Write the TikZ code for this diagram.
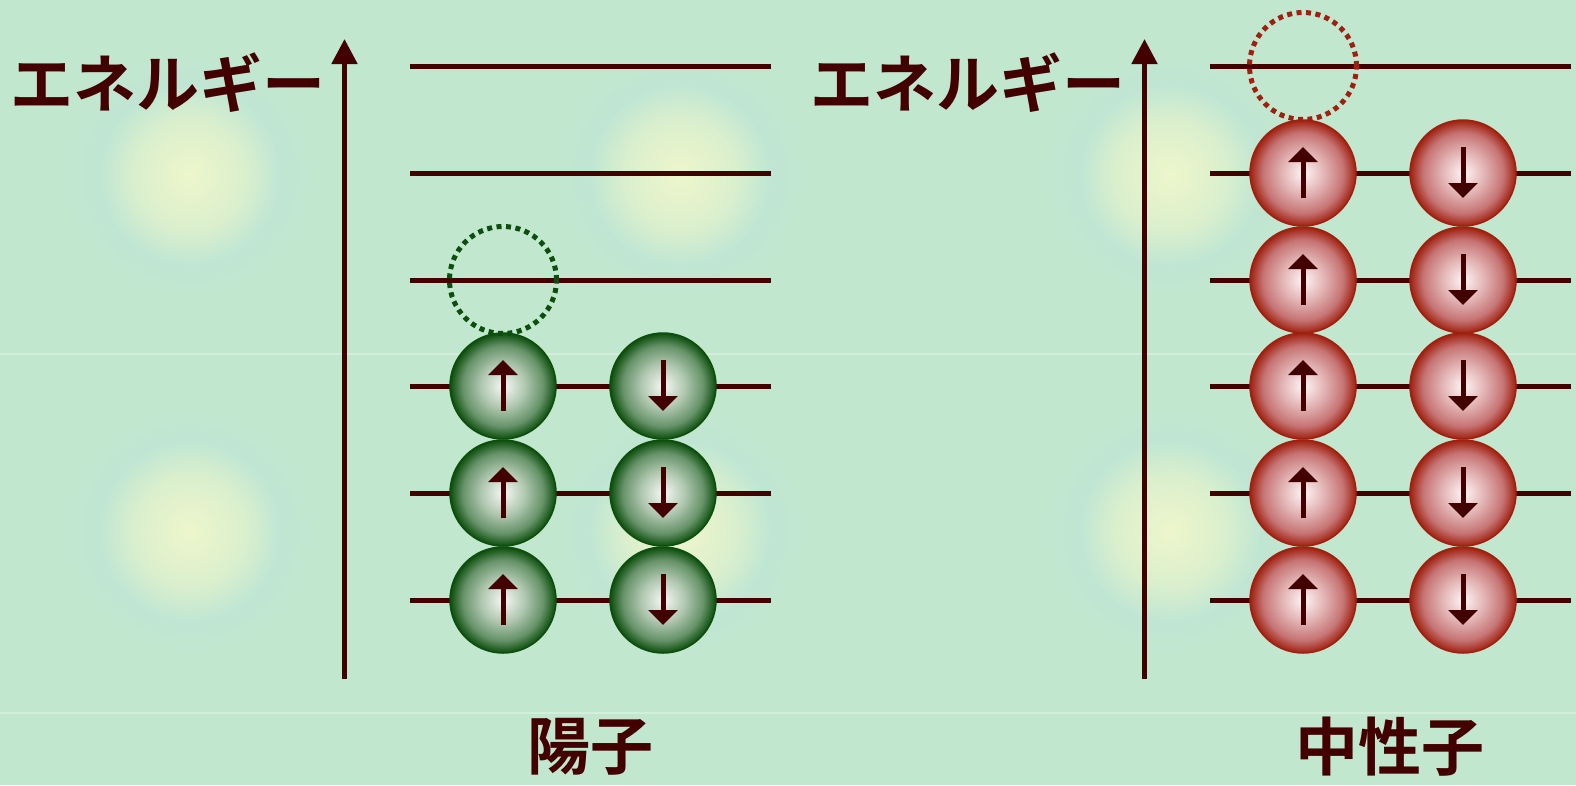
\documentclass[tikz,border=0pt]{standalone}
\usepackage{fontspec}
\newfontfamily\jpfont{Noto Sans CJK JP}[BoldFont={Noto Sans CJK JP Bold}]
\usetikzlibrary{arrows.meta}

\definecolor{bg}{HTML}{C1E7CF}
\definecolor{glowc}{HTML}{EEF6CB}
\definecolor{glowmid}{HTML}{DAEFCD}
\definecolor{glowrim}{HTML}{C0E6D3}
\definecolor{ink}{HTML}{420000}
\definecolor{seam}{HTML}{D3EEDB}
\definecolor{gw}{HTML}{F6F9F6}
\definecolor{gl}{HTML}{B2C9B2}
\definecolor{gm}{HTML}{67936A}
\definecolor{gd}{HTML}{0C4E0C}
\definecolor{rw}{HTML}{FFF6F6}
\definecolor{rl}{HTML}{E2B4B4}
\definecolor{rm}{HTML}{C67474}
\definecolor{rd}{HTML}{A0200F}

\pgfdeclareradialshading{glow}{\pgfpointorigin}{color(0bp)=(glowc); color(11bp)=(glowmid); color(18bp)=(glowrim); color(25bp)=(bg); color(50bp)=(bg)}
\pgfdeclareradialshading{greenball}{\pgfpointorigin}{color(0bp)=(gw); color(10bp)=(gl); color(19bp)=(gm); color(25bp)=(gd); color(50bp)=(gd)}
\pgfdeclareradialshading{redball}{\pgfpointorigin}{color(0bp)=(rw); color(10bp)=(rl); color(19bp)=(rm); color(25bp)=(rd); color(50bp)=(rd)}

\tikzset{
  axisline/.style={draw=ink, line width=5pt, -{Triangle[width=25pt,length=25pt]}},
  levelline/.style={draw=ink, line width=5pt},
  spinarrow/.style={draw=ink, line width=5pt, -{Triangle[width=29pt,length=15pt]}},
  ballbase/.style={circle, inner sep=0pt, minimum size=106pt, line width=1.5pt},
  pball/.style={ballbase, shading=greenball, draw=gd},
  nball/.style={ballbase, shading=redball, draw=rd},
  hole/.style={circle, inner sep=0pt, minimum size=107pt, line width=5pt, dash pattern=on 5pt off 4.5pt},
  jtext/.style={inner sep=0pt, text=ink, font=\fontsize{63pt}{63pt}\selectfont\jpfont\bfseries}
}

\begin{document}
\begin{tikzpicture}[x=1pt,y=-1pt]
  % background with soft glows and faint seams
  \fill[bg] (0,0) rectangle (1576,785);
  \useasboundingbox (0,0) rectangle (1576,785);
  \foreach \gx in {190,680,1170}
    \foreach \gy in {175,531}
      \shade[shading=glow] (\gx,\gy) circle (125);
  \draw[seam, line width=2pt] (0,354) -- (1576,354);
  \draw[seam, line width=2pt] (0,712.5) -- (1576,712.5);

  % ---- proton side ----
  \coordinate (paxb) at (344.5,679);
  \coordinate (paxt) at (344.5,39);
  \draw[axisline] (paxb) -- (paxt);
  \foreach \i/\y in {1/600,2/493,3/386,4/280,5/173,6/66} {
    \coordinate (pl\i a) at (410,\y);
    \coordinate (pl\i b) at (771,\y);
    \draw[levelline] (pl\i a) -- (pl\i b);
  }
  \foreach \i/\y in {1/600,2/493,3/386} {
    \node[pball] (pu\i) at (503,\y) {};
    \node[pball] (pd\i) at (663,\y) {};
    \draw[spinarrow] ([yshift=-25pt]pu\i.center) -- ([yshift=26pt]pu\i.center);
    \draw[spinarrow] ([yshift=26pt]pd\i.center) -- ([yshift=-25pt]pd\i.center);
  }
  \node[hole, draw=gd] (phole) at (503,280) {};
  \node[jtext] (pen) at (168,83) {エネルギー};
  \node[jtext] (pname) at (590,747) {陽子};

  % ---- neutron side ----
  \coordinate (naxb) at (1144.5,679);
  \coordinate (naxt) at (1144.5,39);
  \draw[axisline] (naxb) -- (naxt);
  \foreach \i/\y in {1/600,2/493,3/386,4/280,5/173,6/66} {
    \coordinate (nl\i a) at (1210,\y);
    \coordinate (nl\i b) at (1571,\y);
    \draw[levelline] (nl\i a) -- (nl\i b);
  }
  \foreach \i/\y in {1/600,2/493,3/386,4/280,5/173} {
    \node[nball] (nu\i) at (1303,\y) {};
    \node[nball] (nd\i) at (1463,\y) {};
    \draw[spinarrow] ([yshift=-25pt]nu\i.center) -- ([yshift=26pt]nu\i.center);
    \draw[spinarrow] ([yshift=26pt]nd\i.center) -- ([yshift=-25pt]nd\i.center);
  }
  \node[hole, draw=rd] (nhole) at (1303,66) {};
  \node[jtext] (nen) at (968,83) {エネルギー};
  \node[jtext] (nname) at (1390,747) {中性子};
\end{tikzpicture}
\end{document}
